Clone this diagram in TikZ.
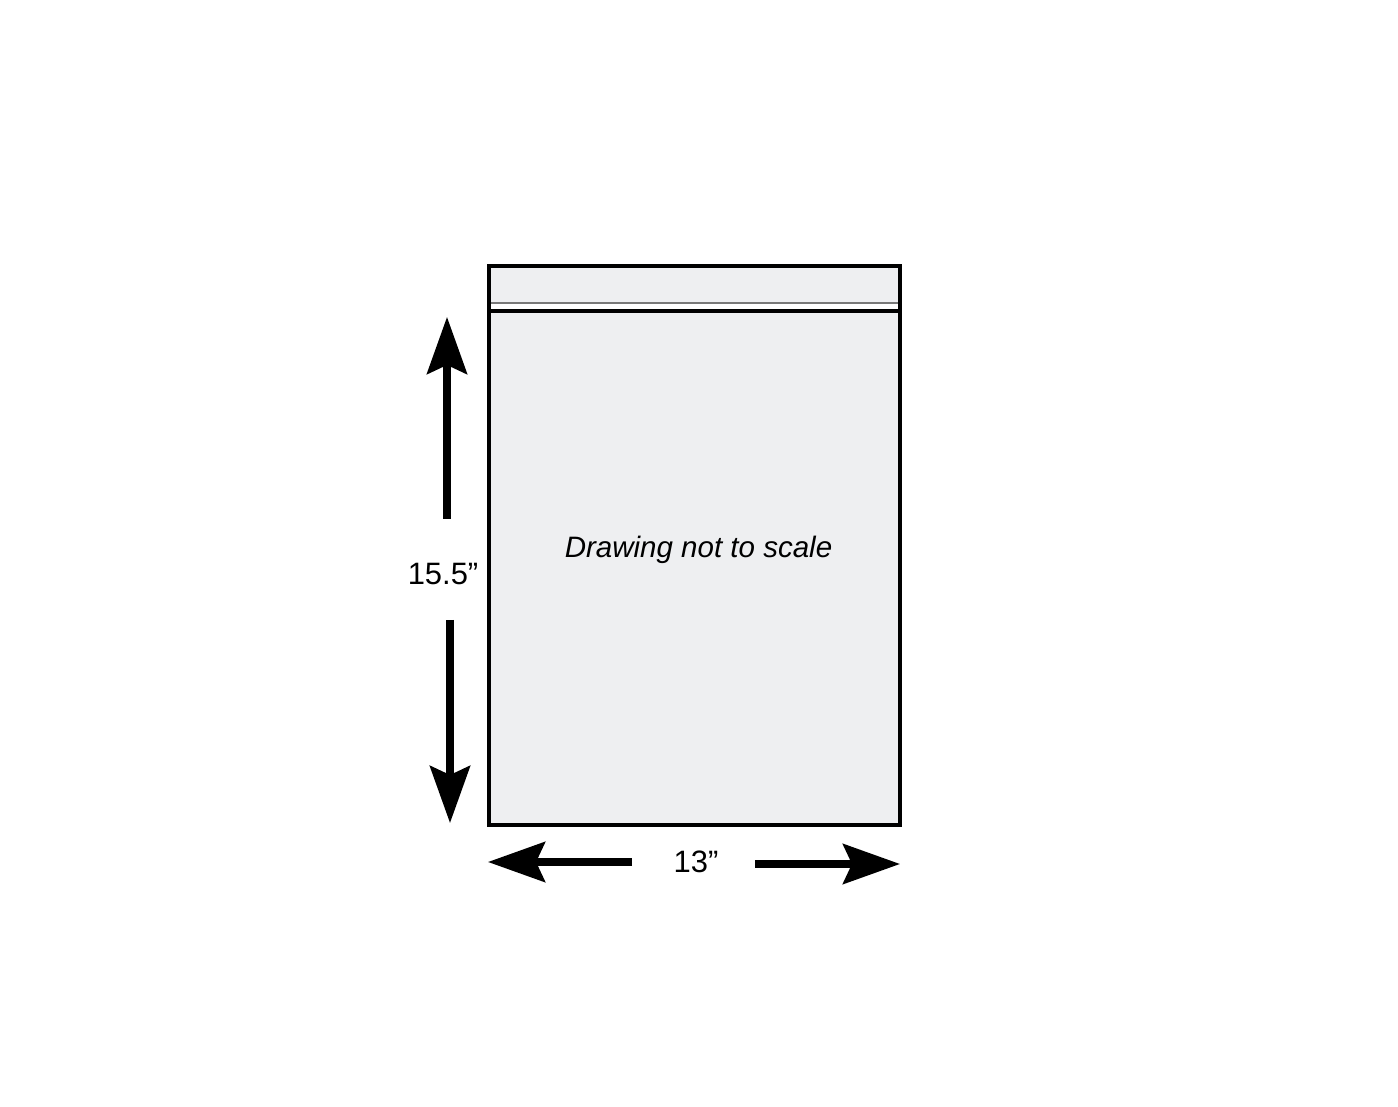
\documentclass[tikz,border=0pt]{standalone}
\usepackage{fontspec}
\setmainfont{Liberation Sans}
\usetikzlibrary{arrows.meta}

\definecolor{bagfill}{RGB}{238,239,241}
\definecolor{zipgrey}{RGB}{120,120,120}

\tikzset{
  dimarrow/.style={line width=2pt, -{Stealth[length=5.7mm, width=4mm, inset=0.9mm]}},
  dimlabel/.style={anchor=base, font=\fontsize{8.8}{10}\selectfont, inner sep=0pt}
}

\begin{document}
\begin{tikzpicture}
        \useasboundingbox (0,0) rectangle (13.98,11.06);
        \filldraw[draw=black, fill=bagfill, line width=1.1pt] (4.89,2.81) rectangle (9.00,8.40);
        \draw[white, line width=1.6pt] (4.91,7.995) -- (8.98,7.995);
        \draw[zipgrey, line width=0.6pt] (4.91,8.028) -- (8.98,8.028);
        \draw[black, line width=1.2pt] (4.89,7.95) -- (9.00,7.95);
        \node[dimlabel, font=\fontsize{8.4}{10}\selectfont\itshape] (note) at (6.985,5.48) {Drawing not to scale};
        \node[dimlabel] (hgt) at (4.43,5.21) {15.5”};
        \node[dimlabel] (wid) at (6.96,2.33) {13”};
        \coordinate (up0) at (4.47,5.87);
        \coordinate (up1) at (4.47,7.89);
        \coordinate (dn0) at (4.50,4.86);
        \coordinate (dn1) at (4.50,2.83);
        \coordinate (lf0) at (6.32,2.44);
        \coordinate (lf1) at (4.88,2.44);
        \coordinate (rt0) at (7.55,2.42);
        \coordinate (rt1) at (9.00,2.42);
        \draw[dimarrow] (up0) -- (up1);
        \draw[dimarrow] (dn0) -- (dn1);
        \draw[dimarrow] (lf0) -- (lf1);
        \draw[dimarrow] (rt0) -- (rt1);
    \end{tikzpicture}
\end{document}
